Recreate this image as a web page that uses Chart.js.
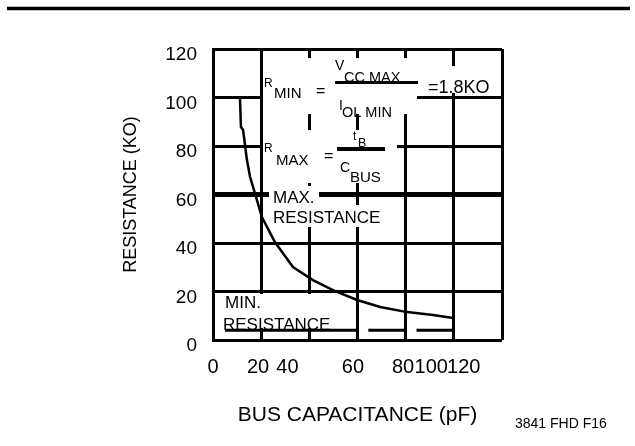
<!DOCTYPE html>
<html>
<head>
<meta charset="utf-8">
<script src="https://cdn.jsdelivr.net/npm/chart.js@4.4.1/dist/chart.umd.min.js"></script>
<style>
  html, body { margin: 0; padding: 0; background: #fff; }
  #wrap { width: 635px; height: 446px; }
</style>
</head>
<body>
<div id="wrap"><canvas id="chart"></canvas></div>
<script>
// R(max) curve: bus capacitance (pF) vs resistance (kO)
const busCap = [11.2, 11.6, 12.5, 14.1, 15.4, 17.4, 20.3, 25.7, 33.2, 41.5, 49.8, 59.8, 69.4, 80.6, 91.4, 99.7];
const resistance = [99.8, 87.8, 86.6, 74.2, 67.2, 60.6, 50.7, 40.4, 30.1, 24.7, 20.6, 16.5, 13.6, 11.5, 10.3, 9.1];

// broken "min resistance" line near the bottom
const minLineCap = [5, 60, 62, 64.5, 79.5, 82, 84.5, 99.5];
const minLineRes = [4, 4, null, 4, 4, null, 4, 4];

// grid / ticks
const xGridTicks = [0, 20, 40, 60, 80, 100, 120];
// the printed x labels do not sit on their grid lines
const xLabelAt = [0, 18.7, 30.9, 58.1, 78.9, 90.6, 104.1];
const xLabelText = ['0', '20', '40', '60', '80', '100', '120'];

const FONT = "'Liberation Sans', Arial, Helvetica, sans-serif";

// white boxes behind the notes (they break the grid lines)
const masks = [
  [263, 58, 154, 56],
  [417, 66, 76, 27],
  [263, 130, 134, 53],
  [269, 186, 50, 19],
  [269, 205, 116, 22],
  [220, 294, 117, 34]
];

// [text, x, baseline, size]
const notes = [
  ['R', 264, 87, 12],
  ['MIN', 274, 98, 15],
  ['=', 316, 96, 16],
  ['V', 335, 70, 14],
  ['CC MAX', 344, 82, 14.5],
  ['I', 339, 110, 14],
  ['OL MIN', 342, 117, 14.5],
  ['=1.8KO', 428, 93, 18],
  ['R', 264, 152, 12],
  ['MAX', 276, 165, 15],
  ['=', 324, 161, 16],
  ['t', 353, 140, 12],
  ['B', 358, 147, 12.5],
  ['C', 340, 172, 14],
  ['BUS', 350, 182, 15],
  ['MAX.', 273, 203, 17],
  ['RESISTANCE', 273, 223, 17],
  ['MIN.', 225, 308, 17],
  ['RESISTANCE', 223, 330, 17]
];
// fraction bars: [x1, x2, y, width]
const bars = [[335, 418, 82.5, 3], [337, 385, 149, 4]];

const notesPlugin = {
  id: 'notes',
  beforeDatasetsDraw(chart) {
    const ctx = chart.ctx;
    ctx.save();
    ctx.fillStyle = '#fff';
    masks.forEach(m => ctx.fillRect(m[0], m[1], m[2], m[3]));
    ctx.restore();
  },
  afterDatasetsDraw(chart) {
    const ctx = chart.ctx;
    ctx.save();
    ctx.fillStyle = '#000';
    ctx.textBaseline = 'alphabetic';
    ctx.textAlign = 'left';
    notes.forEach(n => {
      ctx.font = n[3] + 'px ' + FONT;
      ctx.fillText(n[0], n[1], n[2]);
    });
    ctx.strokeStyle = '#000';
    bars.forEach(b => {
      ctx.lineWidth = b[3];
      ctx.beginPath();
      ctx.moveTo(b[0], b[2]);
      ctx.lineTo(b[1], b[2]);
      ctx.stroke();
    });
    // rule at the top of the page
    ctx.lineWidth = 3.5;
    ctx.beginPath();
    ctx.moveTo(7, 8.5);
    ctx.lineTo(630, 8.5);
    ctx.stroke();
    // figure code
    ctx.font = '14px ' + FONT;
    ctx.fillText('3841 FHD F16', 515, 428);
    ctx.restore();
  }
};

new Chart(document.getElementById('chart'), {
  type: 'line',
  data: {
    datasets: [
      {
        data: busCap.map((c, i) => ({ x: c, y: resistance[i] })),
        borderColor: '#000',
        borderWidth: 2.5,
        pointRadius: 0,
        tension: 0
      },
      {
        data: minLineCap.map((c, i) => ({ x: c, y: minLineRes[i] })),
        borderColor: '#000',
        borderWidth: 3,
        pointRadius: 0,
        spanGaps: false
      }
    ]
  },
  options: {
    responsive: true,
    maintainAspectRatio: false,
    animation: false,
    events: [],
    layout: { padding: { top: 49, right: 133, left: 0, bottom: 0 } },
    plugins: {
      legend: { display: false },
      tooltip: { enabled: false }
    },
    scales: {
      x: {
        type: 'linear',
        min: 0,
        max: 120,
        afterBuildTicks: s => { s.ticks = xGridTicks.map(v => ({ value: v })); },
        afterFit: s => { s.height = 0; },
        ticks: { display: false },
        grid: { color: '#000', lineWidth: 3, drawTicks: false },
        border: { display: false }
      },
      x2: {
        type: 'linear',
        position: 'bottom',
        min: 0,
        max: 120,
        afterBuildTicks: s => { s.ticks = xLabelAt.map(v => ({ value: v })); },
        afterFit: s => { s.height = 106; },
        grid: { display: false, drawTicks: false },
        border: { display: false },
        ticks: {
          autoSkip: false,
          maxRotation: 0,
          padding: 15,
          color: '#000',
          font: { family: FONT, size: 20 },
          callback: (v, i) => xLabelText[i]
        },
        title: {
          display: true,
          text: 'BUS CAPACITANCE (pF)',
          color: '#000',
          font: { family: FONT, size: 21 },
          padding: { top: 0, bottom: 18 }
        }
      },
      y: {
        min: 0,
        max: 120,
        afterFit: s => { s.width = 213; },
        ticks: {
          stepSize: 20,
          padding: 16,
          labelOffset: 6,
          color: '#000',
          font: { family: FONT, size: 19 }
        },
        grid: {
          color: '#000',
          lineWidth: c => (c.tick && c.tick.value === 60 ? 5 : 3),
          drawTicks: false
        },
        border: { display: true, color: '#000', width: 3 },
        title: {
          display: true,
          text: 'RESISTANCE (KO)',
          color: '#000',
          font: { family: FONT, size: 18 },
          padding: { top: 120, bottom: 0 }
        }
      }
    }
  },
  plugins: [notesPlugin]
});
</script>
</body>
</html>
